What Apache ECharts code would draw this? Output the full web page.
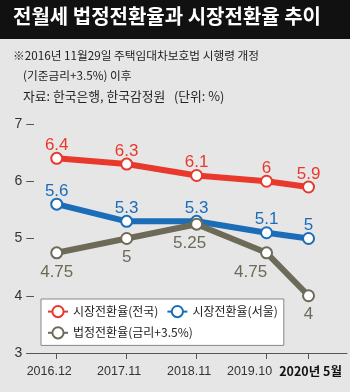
<!DOCTYPE html>
<html><head><meta charset="utf-8">
<script src="https://cdn.jsdelivr.net/npm/echarts@6/dist/echarts.min.js"></script>
<style>html,body{margin:0;padding:0;background:#e6e6e6}#c{width:350px;height:392px}</style>
</head><body><div id="c"></div>
<script>
const titleText = '전월세 법정전환율과 시장전환율 추이';
const noteLines = ['※2016년 11월29일 주택임대차보호법 시행령 개정', '(기준금리+3.5%) 이후', '자료: 한국은행, 한국감정원   (단위: %)'];
const categories = ['2016.12', '2017.11', '2018.11', '2019.10', '2020년 5월'];
const xPos = [0, 1, 2, 3, 3.6];
const seriesNames = ['시장전환율(전국)', '시장전환율(서울)', '법정전환율(금리+3.5%)'];
const marketNational = [6.4, 6.3, 6.1, 6, 5.9];
const marketSeoul = [5.6, 5.3, 5.3, 5.1, 5];
const legalRate = [4.75, 5, 5.25, 4.75, 4];
const yTicks = [3, 4, 5, 6, 7];

const colors = ['#e8392c', '#1b6db8', '#6e6a58'];
const font = '"Liberation Sans", Arial, sans-serif';
const kfont = '"Noto Sans CJK KR", sans-serif';
const X_MIN = -0.425, X_MAX = 4.15;
const labelStyleKeys = ['a', 'a', 'a', 'c', 'b'];
const legalLabelShift = [0, 0, -7, -16, 0];

function mk(name, vals, color, pos, dist, shifts) {
  return {
    name, type: 'line',
    data: vals.map((v, i) => ({ value: [xPos[i], v], label: { offset: [shifts ? shifts[i] : 0, 0] } })),
    symbol: 'circle', symbolSize: 11,
    lineStyle: { color, width: 6 },
    itemStyle: { color: '#fff', borderColor: color, borderWidth: 2 },
    label: { show: true, position: pos, distance: dist, color, fontSize: 17, fontFamily: font,
      formatter: p => String(p.value[1]) },
    emphasis: { disabled: true }, animation: false
  };
}

const chart = echarts.init(document.getElementById('c'), null, { renderer: 'canvas' });
chart.setOption({
  backgroundColor: '#e6e6e6',
  animation: false,
  graphic: [
    { type: 'rect', left: 0, top: 0, shape: { width: 350, height: 39 }, style: { fill: '#111' } },
    { type: 'text', left: 13, top: 6, style: { text: titleText, fill: '#fff', font: 'bold 20px ' + kfont } },
    { type: 'text', left: 13, top: 50, style: { text: noteLines[0], fill: '#222', font: '11.7px ' + kfont } },
    { type: 'text', left: 23, top: 70, style: { text: noteLines[1], fill: '#222', font: '11.7px ' + kfont } },
    { type: 'text', left: 23, top: 90, style: { text: noteLines[2], fill: '#222', font: '12.8px ' + kfont } }
  ],
  grid: { left: 27, right: 0, top: 124, bottom: 39, containLabel: false },
  xAxis: {
    type: 'value', min: X_MIN, max: X_MAX,
    splitLine: { show: false },
    axisLine: { show: true, lineStyle: { color: '#555', width: 1 } },
    axisTick: { show: true, customValues: xPos, length: 6, lineStyle: { color: '#555' } },
    axisLabel: {
      customValues: xPos.concat([X_MAX]), margin: 12, fontSize: 12.5, fontFamily: font, color: '#333',
      hideOverlap: false, showMinLabel: true, showMaxLabel: true,
      formatter: v => {
        const i = xPos.indexOf(v);
        if (i < 0) return '';
        return '{' + labelStyleKeys[i] + '|' + categories[i] + '}';
      },
      rich: {
        a: { fontSize: 12.5, fontFamily: font, color: '#333', padding: [0, 15, 0, 0] },
        c: { fontSize: 12.5, fontFamily: font, color: '#333', padding: [0, 34, 0, 0] },
        b: { fontSize: 12.5, fontWeight: 'bold', color: '#111', fontFamily: kfont, padding: [0, 0, 0, 4] }
      }
    }
  },
  yAxis: {
    type: 'value', min: yTicks[0], max: yTicks[yTicks.length - 1], interval: 1,
    splitLine: { show: false },
    axisLine: { show: false },
    axisTick: { show: false },
    axisLabel: {
      margin: -7, fontFamily: font, color: '#333',
      formatter: v => '{n|' + v + '}{d|–}',
      rich: { n: { fontSize: 14, fontFamily: font, color: '#333', padding: [0, 4, 0, 0] },
              d: { fontSize: 14, fontFamily: font, color: '#555' } }
    }
  },
  legend: {
    data: seriesNames, left: 41, top: 299, width: 240,
    backgroundColor: '#fff', borderColor: '#888', borderWidth: 1, borderRadius: 0,
    padding: [6, 6, 6, 6], itemWidth: 20, itemHeight: 14, itemGap: 8,
    textStyle: { fontSize: 12, fontFamily: kfont, color: '#222' }
  },
  series: [
    mk(seriesNames[0], marketNational, colors[0], 'top', -2),
    mk(seriesNames[1], marketSeoul, colors[1], 'top', -2),
    mk(seriesNames[2], legalRate, colors[2], 'bottom', 4, legalLabelShift)
  ]
});
</script></body></html>
